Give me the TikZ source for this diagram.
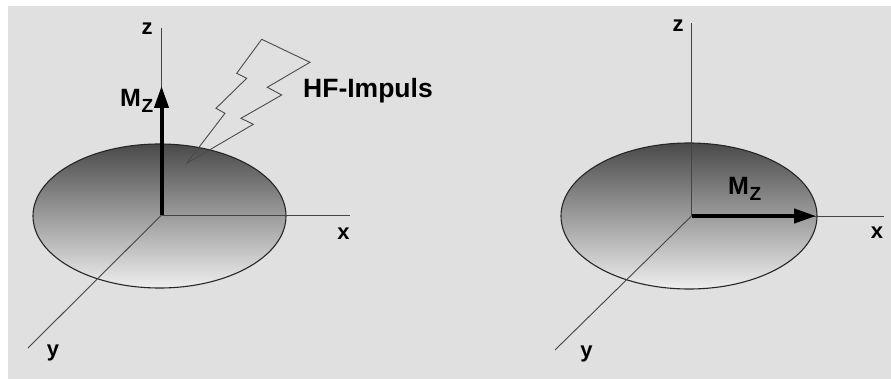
\documentclass[tikz,border=0pt]{standalone}
\usepackage{fontspec}
\setmainfont{Liberation Sans}
\usetikzlibrary{arrows.meta}
\definecolor{bgray}{HTML}{E0E0E0}
\definecolor{axcol}{HTML}{444444}
\definecolor{elltop}{HTML}{4A4A4A}
\definecolor{ellbot}{HTML}{EEEEEE}
\definecolor{boltcol}{HTML}{4A4A4A}
\tikzset{
  axis/.style={draw=axcol, line width=0.9pt},
  disc/.style={draw=black!85, line width=1.1pt, top color=elltop, bottom color=ellbot},
  magvec/.style={draw=black, line width=4pt, -{Triangle[width=14pt,length=22pt]}},
  bolt/.style={draw=boltcol, line width=0.9pt, line join=miter},
  lab/.style={font=\bfseries\fontsize{22}{24}\selectfont, inner sep=0pt, anchor=base},
  mlab/.style={font=\bfseries\fontsize{25}{28}\selectfont, inner sep=0pt, anchor=base west},
  hflab/.style={font=\bfseries\fontsize{26.5}{30}\selectfont, inner sep=0pt, anchor=base west}
}
\newcommand{\mzsub}{M\kern0.5pt\raisebox{-5.5pt}{\fontsize{19}{20}\selectfont Z}}
\begin{document}
\begin{tikzpicture}[x=1pt,y=-1pt]
\useasboundingbox (0,0) rectangle (891,379);
\fill[white] (0,0) rectangle (891,379);
\fill[bgray] (8,6) rectangle (891,379);

% ---------- left diagram ----------
\coordinate (O1) at (161.5,215);
\coordinate (Z1) at (161.5,28);
\coordinate (X1) at (350,215);
\coordinate (Y1) at (28,348);
\coordinate (M1) at (161.5,86);
\path[disc] (159.5,216) ellipse [x radius=126.5, y radius=72];
\draw[axis] (O1) -- (Z1);
\draw[axis] (O1) -- (X1);
\draw[axis] (O1) -- (Y1);
\draw[magvec] (O1) -- (M1);
\draw[bolt] (261.7,39.3) -- (310,62.3) -- (267.3,87.3) -- (281.7,95) -- (241,118.3)
  -- (253.3,124.3) -- (186.7,163.3) -- (225,113.3) -- (216,108.3) -- (246.7,78.3)
  -- (236.7,73.3) -- cycle;
\node[lab] (z1) at (147,35) {z};
\node[lab] (x1) at (343.5,240) {x};
\node[lab] (y1) at (53,356) {y};
\node[mlab] (mz1) at (120,107) {\mzsub};
\node[hflab] (hf) at (303,98) {HF-Impuls};

% ---------- right diagram ----------
\coordinate (O2) at (691.5,216);
\coordinate (Z2) at (691.5,23);
\coordinate (X2) at (884,216);
\coordinate (Y2) at (555,350);
\coordinate (M2) at (816,216);
\path[disc] (689,216) ellipse [x radius=128, y radius=73];
\draw[axis] (O2) -- (Z2);
\draw[axis] (O2) -- (X2);
\draw[axis] (O2) -- (Y2);
\draw[magvec] (O2) -- (M2);
\node[lab] (z2) at (678,32) {z};
\node[lab] (x2) at (877,239) {x};
\node[lab] (y2) at (586.5,357) {y};
\node[mlab] (mz2) at (728,195) {\mzsub};
\end{tikzpicture}
\end{document}
